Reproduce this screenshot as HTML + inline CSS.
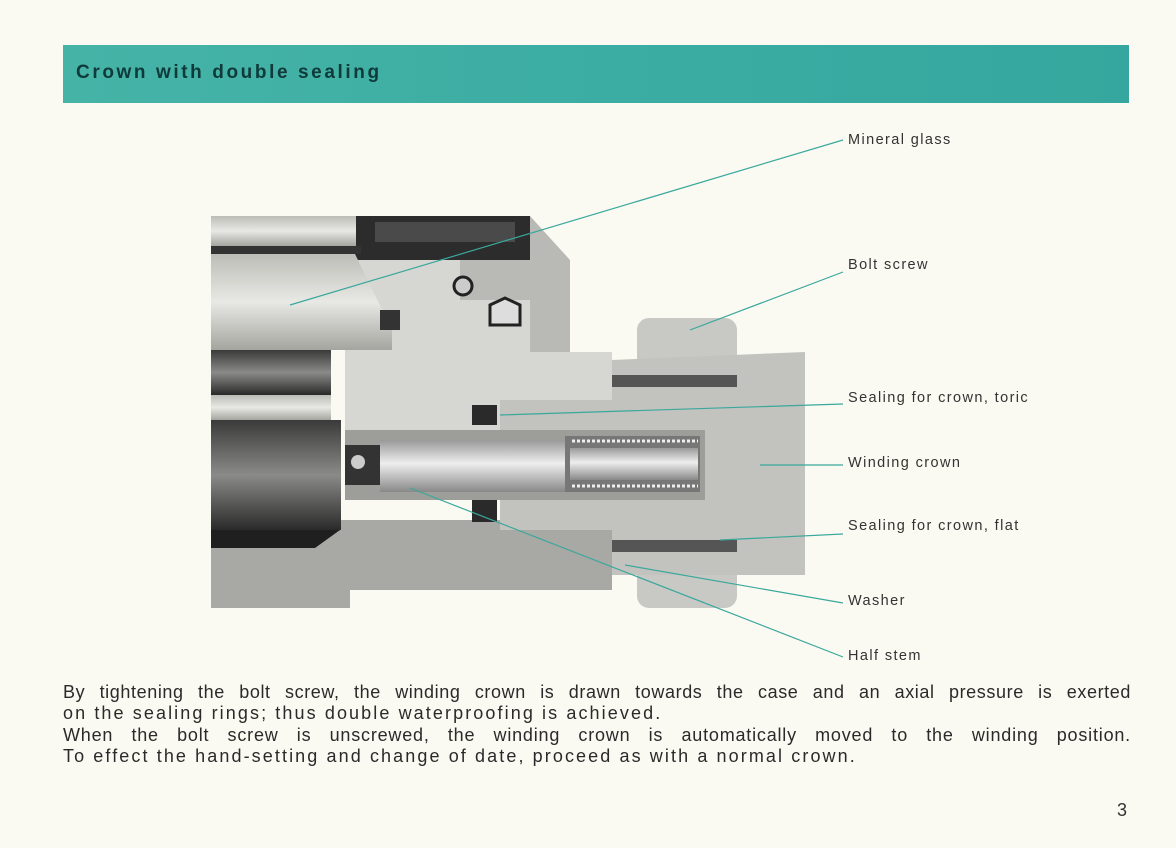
<!DOCTYPE html>
<html><head><meta charset="utf-8"><style>
html,body{margin:0;padding:0}
body{width:1176px;height:848px;background:#fbfaf2;position:relative;overflow:hidden;font-family:"Liberation Sans",sans-serif}
.bar{position:absolute;left:63px;top:45px;width:1066px;height:58px;background:linear-gradient(90deg,#46b3a7,#3aaca2 60%,#35a79e);}
.bar span{position:absolute;left:13px;top:17px;font-weight:bold;font-size:19px;letter-spacing:2.6px;color:#0e3a3a}
.lbl{position:absolute;left:848px;font-size:14.5px;letter-spacing:1.4px;color:#333}
.p{position:absolute;left:63px;width:1068px;font-size:18px;letter-spacing:2.1px;line-height:21.5px;color:#2a2a2a;text-align:justify;text-align-last:justify;white-space:nowrap}
</style></head><body>
<div class="bar"><span>Crown with double sealing</span></div>
<svg width="1176" height="848" style="position:absolute;left:0;top:0">
<defs>
<linearGradient id="g1" x1="0" y1="0" x2="0" y2="1"><stop offset="0" stop-color="#bdbdb8"/><stop offset=".5" stop-color="#e8e8e4"/><stop offset="1" stop-color="#a5a5a0"/></linearGradient>
<linearGradient id="g2" x1="0" y1="0" x2="0" y2="1"><stop offset="0" stop-color="#3a3a3a"/><stop offset=".5" stop-color="#8a8a88"/><stop offset="1" stop-color="#2a2a2a"/></linearGradient>
<linearGradient id="g3" x1="0" y1="0" x2="0" y2="1"><stop offset="0" stop-color="#999"/><stop offset=".45" stop-color="#eee"/><stop offset="1" stop-color="#888"/></linearGradient>
</defs>
<path d="M211 520 L630 520 L630 575 L612 575 L612 590 L350 590 L350 608 L211 608 Z" fill="#a8a8a4"/>
<path d="M355 260 L460 260 L460 300 L530 300 L530 352 L612 352 L612 400 L500 400 L500 430 L345 430 L345 350 Z" fill="#d6d6d2"/>
<path d="M460 216 L530 216 L570 260 L570 352 L530 352 L530 300 L460 300 Z" fill="#b9b9b5"/>
<rect x="355" y="216" width="175" height="44" fill="#2c2c2c"/>
<rect x="375" y="222" width="140" height="20" fill="#4a4a4a"/>
<rect x="211" y="216" width="145" height="30" fill="url(#g1)"/>
<rect x="211" y="246" width="150" height="8" fill="#333"/>
<path d="M211 254 L355 254 L392 330 L392 350 L211 350 Z" fill="url(#g1)"/>
<rect x="211" y="350" width="120" height="45" fill="url(#g2)"/>
<rect x="211" y="395" width="120" height="25" fill="url(#g1)"/>
<rect x="211" y="420" width="130" height="110" fill="url(#g2)"/>
<path d="M211 530 L340 530 L315 548 L211 548 Z" fill="#1f1f1f"/>
<circle cx="463" cy="286" r="9" fill="#ccc" stroke="#222" stroke-width="3"/>
<path d="M490 325 L490 305 L505 298 L520 305 L520 325 Z" fill="#ddd" stroke="#222" stroke-width="3"/>
<rect x="380" y="310" width="20" height="20" fill="#333"/>
<rect x="637" y="318" width="100" height="290" rx="12" fill="#c8c8c4"/>
<path d="M612 360 L805 352 L805 575 L612 575 L612 530 L500 530 L500 400 L612 400 Z" fill="#c2c2be"/>
<rect x="612" y="375" width="125" height="12" fill="#555"/>
<rect x="612" y="540" width="125" height="12" fill="#555"/>
<rect x="472" y="405" width="25" height="20" fill="#2a2a2a"/>
<rect x="472" y="500" width="25" height="22" fill="#2a2a2a"/>
<rect x="345" y="430" width="360" height="70" fill="#9d9d99"/>
<rect x="380" y="440" width="185" height="52" fill="url(#g3)"/>
<rect x="565" y="436" width="135" height="56" fill="#777"/>
<rect x="570" y="448" width="128" height="32" fill="url(#g3)"/>
<line x1="572" y1="441" x2="698" y2="441" stroke="#eee" stroke-width="3" stroke-dasharray="3 2"/>
<line x1="572" y1="486" x2="698" y2="486" stroke="#eee" stroke-width="3" stroke-dasharray="3 2"/>
<rect x="345" y="445" width="35" height="40" fill="#333"/>
<circle cx="358" cy="462" r="7" fill="#ccc"/>
<g stroke="#3aa89c" stroke-width="1.2" fill="none">
<line x1="843" y1="140" x2="290" y2="305"/>
<line x1="843" y1="272" x2="690" y2="330"/>
<line x1="843" y1="404" x2="500" y2="415"/>
<line x1="843" y1="465" x2="760" y2="465"/>
<line x1="843" y1="534" x2="720" y2="540"/>
<line x1="843" y1="603" x2="625" y2="565"/>
<line x1="843" y1="657" x2="410" y2="488"/>
</g>
</svg>
<div class="lbl" style="top:132px">Mineral glass</div>
<div class="lbl" style="top:257px">Bolt screw</div>
<div class="lbl" style="top:390px">Sealing for crown, toric</div>
<div class="lbl" style="top:455px">Winding crown</div>
<div class="lbl" style="top:518px">Sealing for crown, flat</div>
<div class="lbl" style="top:593px">Washer</div>
<div class="lbl" style="top:648px">Half stem</div>
<div class="p" style="top:682px;letter-spacing:0.6px">By tightening the bolt screw, the winding crown is drawn towards the case and an axial pressure is exerted</div>
<div class="p" style="top:703px;text-align-last:left">on the sealing rings; thus double waterproofing is achieved.</div>
<div class="p" style="top:725px;letter-spacing:0.8px">When the bolt screw is unscrewed, the winding crown is automatically moved to the winding position.</div>
<div class="p" style="top:746px;text-align-last:left">To effect the hand-setting and change of date, proceed as with a normal crown.</div>
<div style="position:absolute;left:1117px;top:800px;font-size:18px;color:#333">3</div>
</body></html>
